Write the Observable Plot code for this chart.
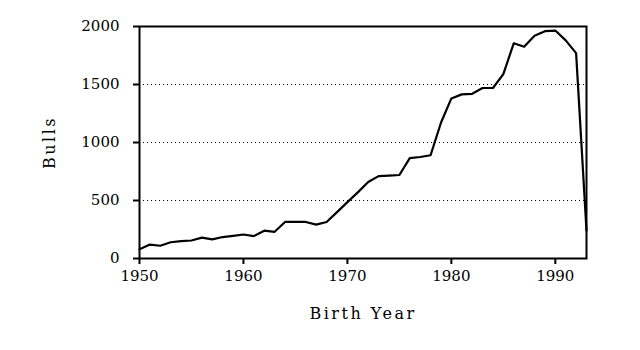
<!DOCTYPE html>
<html>
<head>
<meta charset="utf-8">
<script src="https://cdn.jsdelivr.net/npm/d3@7"></script>
<script src="https://cdn.jsdelivr.net/npm/@observablehq/plot@0.6"></script>
<style>
  html, body { margin: 0; padding: 0; background: #fff; }
  #chart svg [aria-label="x-axis label"] text,
  #chart svg [aria-label="y-axis label"] text { letter-spacing: 2.5px; font-size: 16px; }
</style>
</head>
<body>
<div id="chart"></div>
<script>
const years = [1950,1951,1952,1953,1954,1955,1956,1957,1958,1959,1960,1961,1962,1963,1964,1965,1966,1967,1968,1969,1970,1971,1972,1973,1974,1975,1976,1977,1978,1979,1980,1981,1982,1983,1984,1985,1986,1987,1988,1989,1990,1991,1992,1993];
const bulls = [80,120,110,140,150,155,180,165,185,195,207,193,240,230,315,315,315,292,315,400,486,570,660,710,715,720,865,875,890,1170,1380,1415,1420,1470,1470,1590,1855,1825,1920,1960,1965,1880,1770,240];
const xTicks = [1950,1960,1970,1980,1990];
const yTicks = [0,500,1000,1500,2000];
const gridValues = [500,1000,1500];

const data = years.map((y, i) => ({year: y, bulls: bulls[i]}));

const chart = Plot.plot({
  width: 640,
  height: 350,
  marginLeft: 139,
  marginRight: 54,
  marginTop: 26,
  marginBottom: 92,
  style: {fontFamily: "DejaVu Serif", fontSize: "15px", color: "#000", background: "#fff"},
  x: {domain: [1950, 1993]},
  y: {domain: [0, 2000]},
  marks: [
    Plot.gridY(gridValues, {stroke: "#000", strokeOpacity: 1, strokeDasharray: "1,3", strokeWidth: 1}),
    Plot.line(data, {x: "year", y: "bulls", stroke: "#000", strokeWidth: 2.2, strokeLinejoin: "round"}),
    Plot.frame({stroke: "#000", strokeWidth: 2}),
    Plot.axisX(xTicks, {tickSize: 6, tickPadding: 6, strokeWidth: 2, tickFormat: d => String(d), label: "Birth Year", labelAnchor: "center", labelArrow: "none", labelOffset: 60}),
    Plot.axisY(yTicks, {tickSize: 6, tickPadding: 14, strokeWidth: 2, tickFormat: d => String(d), label: "Bulls", labelAnchor: "center", labelArrow: "none", labelOffset: 96})
  ]
});
document.getElementById("chart").appendChild(chart);
</script>
</body>
</html>
